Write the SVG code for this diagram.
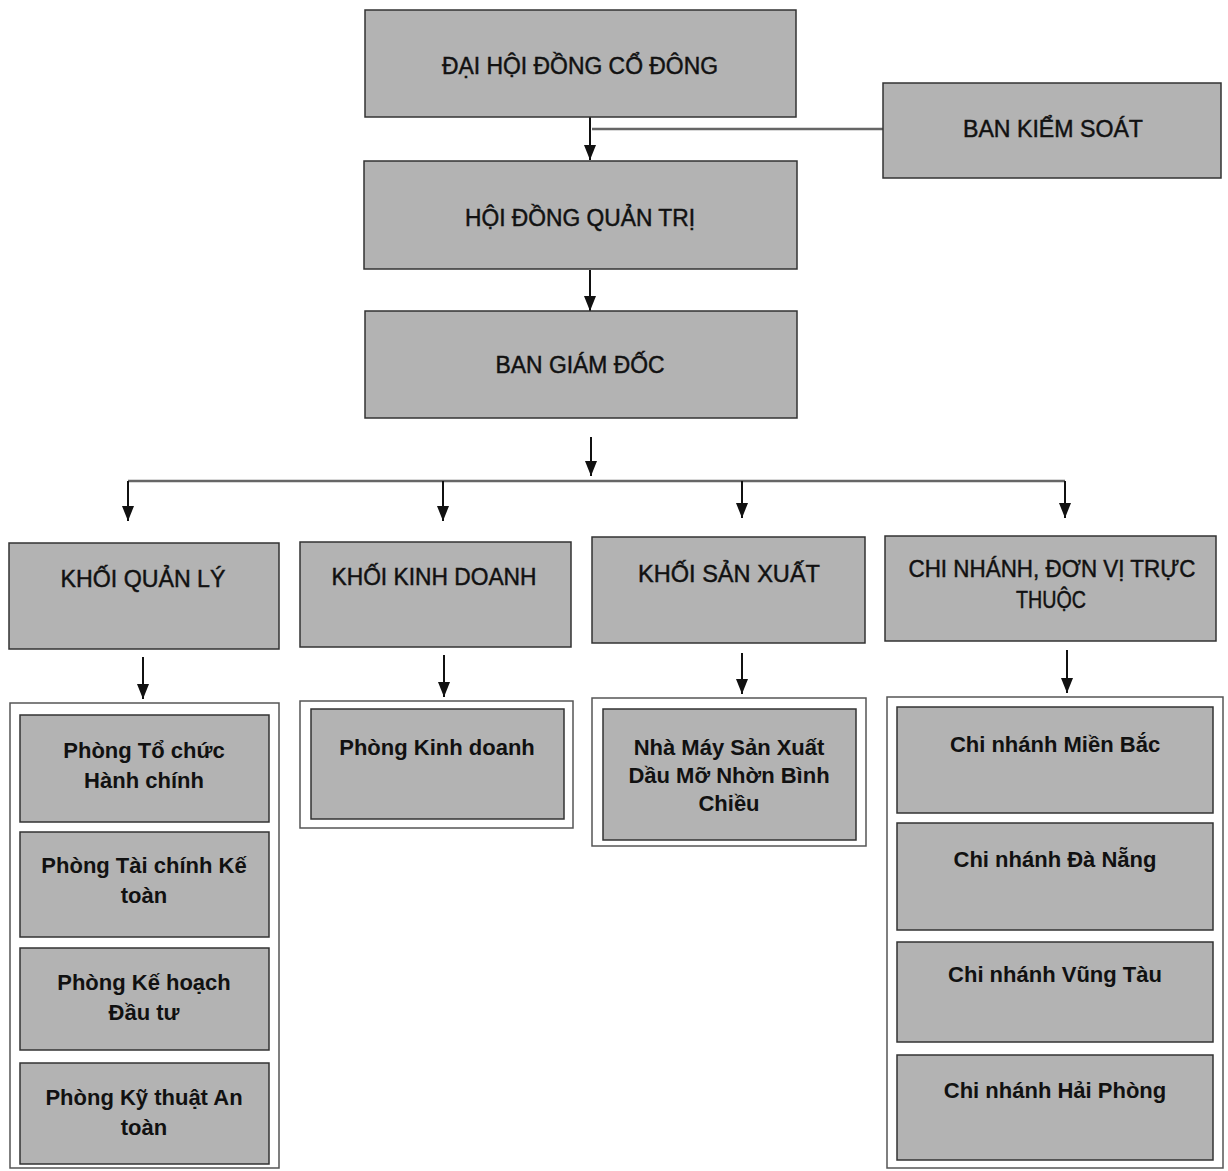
<svg xmlns="http://www.w3.org/2000/svg" width="1228" height="1171" viewBox="0 0 1228 1171">
<style>
.box{fill:#b3b3b3;stroke:#333333;stroke-width:1.5}
.cont{fill:#ffffff;stroke:#555555;stroke-width:1.5}
.t{font-family:"Liberation Sans",Arial,sans-serif;font-size:23px;text-anchor:middle;fill:#111111;stroke:#111111;stroke-width:0.45}
.tr{font-family:"Liberation Sans",Arial,sans-serif;font-size:24px;text-anchor:middle;fill:#111111;stroke:#111111;stroke-width:0.45}
.tb{font-family:"Liberation Sans",Arial,sans-serif;font-size:22px;font-weight:bold;text-anchor:middle;fill:#111111}
.ln{stroke:#111111;stroke-width:2;fill:none}
.hl{stroke:#666666;stroke-width:2.5;fill:none}
</style>
<defs>
<marker id="ad" markerUnits="userSpaceOnUse" markerWidth="15" markerHeight="12" viewBox="0 0 15 12" refX="15" refY="6" orient="auto">
<path d="M0,0 L15,6 L0,12 Z" fill="#111111"/>
</marker>
</defs>

<g id="connectors">
<line class="ln" x1="590" y1="117" x2="590" y2="160" marker-end="url(#ad)"/>
<line class="hl" x1="592" y1="129" x2="883" y2="129"/>
<line class="ln" x1="590" y1="270" x2="590" y2="311" marker-end="url(#ad)"/>
<line class="ln" x1="591" y1="437" x2="591" y2="476" marker-end="url(#ad)"/>
<line class="hl" x1="128" y1="481" x2="1065" y2="481"/>
<line class="ln" x1="128" y1="481" x2="128" y2="521" marker-end="url(#ad)"/>
<line class="ln" x1="443" y1="481" x2="443" y2="521" marker-end="url(#ad)"/>
<line class="ln" x1="742" y1="481" x2="742" y2="518" marker-end="url(#ad)"/>
<line class="ln" x1="1065" y1="481" x2="1065" y2="518" marker-end="url(#ad)"/>
<line class="ln" x1="143" y1="657" x2="143" y2="699" marker-end="url(#ad)"/>
<line class="ln" x1="444" y1="655" x2="444" y2="697" marker-end="url(#ad)"/>
<line class="ln" x1="742" y1="653" x2="742" y2="694" marker-end="url(#ad)"/>
<line class="ln" x1="1067" y1="650" x2="1067" y2="693" marker-end="url(#ad)"/>
</g>

<g id="dhdcd">
<rect class="box" x="365" y="10" width="431" height="107"/>
<text class="t" x="580" y="74" textLength="276" lengthAdjust="spacingAndGlyphs">ĐẠI HỘI ĐỒNG CỔ ĐÔNG</text>
</g>
<g id="bks">
<rect class="box" x="883" y="83" width="338" height="95"/>
<text class="t" x="1053" y="137" textLength="180" lengthAdjust="spacingAndGlyphs">BAN KIỂM SOÁT</text>
</g>
<g id="hdqt">
<rect class="box" x="364" y="161" width="433" height="108"/>
<text class="t" x="580" y="226" textLength="230" lengthAdjust="spacingAndGlyphs">HỘI ĐỒNG QUẢN TRỊ</text>
</g>
<g id="bgd">
<rect class="box" x="365" y="311" width="432" height="107"/>
<text class="t" x="580" y="373" textLength="169" lengthAdjust="spacingAndGlyphs">BAN GIÁM ĐỐC</text>
</g>

<g id="khoi-quan-ly">
<rect class="box" x="9" y="543" width="270" height="106"/>
<text class="tr" x="143" y="587" textLength="165" lengthAdjust="spacingAndGlyphs">KHỐI QUẢN LÝ</text>
</g>
<g id="khoi-kinh-doanh">
<rect class="box" x="300" y="542" width="271" height="105"/>
<text class="tr" x="434" y="585" textLength="205" lengthAdjust="spacingAndGlyphs">KHỐI KINH DOANH</text>
</g>
<g id="khoi-san-xuat">
<rect class="box" x="592" y="537" width="273" height="106"/>
<text class="tr" x="729" y="582" textLength="182" lengthAdjust="spacingAndGlyphs">KHỐI SẢN XUẤT</text>
</g>
<g id="chi-nhanh">
<rect class="box" x="885" y="536" width="331" height="105"/>
<text class="tr" x="1052" y="577" textLength="287" lengthAdjust="spacingAndGlyphs">CHI NHÁNH, ĐƠN VỊ TRỰC</text>
<text class="tr" x="1051" y="608" textLength="70" lengthAdjust="spacingAndGlyphs">THUỘC</text>
</g>

<g id="ql-container">
<rect class="cont" x="10" y="703" width="269" height="465"/>
</g>
<g id="phong-to-chuc">
<rect class="box" x="20" y="715" width="249" height="107"/>
<text class="tb" x="144" y="758">Phòng Tổ chức</text>
<text class="tb" x="144" y="788">Hành chính</text>
</g>
<g id="phong-tai-chinh">
<rect class="box" x="20" y="832" width="249" height="105"/>
<text class="tb" x="144" y="873">Phòng Tài chính Kế</text>
<text class="tb" x="144" y="903">toàn</text>
</g>
<g id="phong-ke-hoach">
<rect class="box" x="20" y="948" width="249" height="102"/>
<text class="tb" x="144" y="990">Phòng Kế hoạch</text>
<text class="tb" x="144" y="1020">Đầu tư</text>
</g>
<g id="phong-ky-thuat">
<rect class="box" x="20" y="1063" width="249" height="101"/>
<text class="tb" x="144" y="1105">Phòng Kỹ thuật An</text>
<text class="tb" x="144" y="1135">toàn</text>
</g>

<g id="kd-container">
<rect class="cont" x="300" y="701" width="273" height="127"/>
</g>
<g id="phong-kinh-doanh">
<rect class="box" x="311" y="709" width="253" height="110"/>
<text class="tb" x="437" y="755">Phòng Kinh doanh</text>
</g>

<g id="sx-container">
<rect class="cont" x="592" y="698" width="274" height="148"/>
</g>
<g id="nha-may">
<rect class="box" x="603" y="709" width="253" height="131"/>
<text class="tb" x="729" y="755">Nhà Máy Sản Xuất</text>
<text class="tb" x="729" y="783">Dầu Mỡ Nhờn Bình</text>
<text class="tb" x="729" y="811">Chiều</text>
</g>

<g id="cn-container">
<rect class="cont" x="887" y="697" width="336" height="471"/>
</g>
<g id="cn-mien-bac">
<rect class="box" x="897" y="707" width="316" height="106"/>
<text class="tb" x="1055" y="752">Chi nhánh Miền Bắc</text>
</g>
<g id="cn-da-nang">
<rect class="box" x="897" y="823" width="316" height="107"/>
<text class="tb" x="1055" y="867">Chi nhánh Đà Nẵng</text>
</g>
<g id="cn-vung-tau">
<rect class="box" x="897" y="942" width="316" height="100"/>
<text class="tb" x="1055" y="982">Chi nhánh Vũng Tàu</text>
</g>
<g id="cn-hai-phong">
<rect class="box" x="897" y="1055" width="316" height="105"/>
<text class="tb" x="1055" y="1098">Chi nhánh Hải Phòng</text>
</g>
</svg>
